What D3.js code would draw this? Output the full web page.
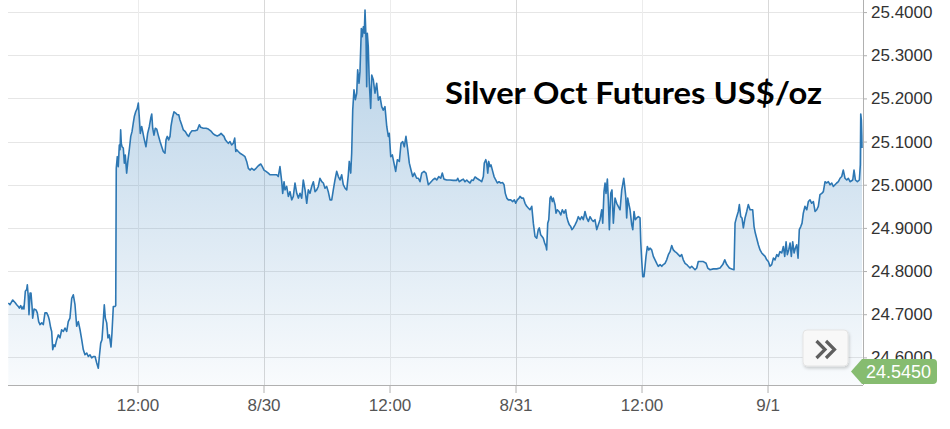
<!DOCTYPE html>
<html>
<head>
<meta charset="utf-8">
<script src="https://cdn.jsdelivr.net/npm/d3@7/dist/d3.min.js"></script>
<style>
html,body{margin:0;padding:0;background:#fff;}
svg{display:block;}
</style>
</head>
<body>
<svg id="chart" width="950" height="429"></svg>
<script>
// ---- data ----
const title = "Silver Oct Futures US$/oz";
const startTime = "2023-08-28T23:40:00Z";   // first point
const endHours = 81.33;                      // length of the x domain in hours
const hours = [0.03,0.19,0.45,0.67,0.83,0.98,1.08,1.21,1.33,1.46,1.52,1.65,1.78,1.84,1.93,2.00,2.10,2.19,2.29,2.35,2.48,2.67,2.79,2.92,3.05,3.21,3.36,3.52,3.69,3.84,3.93,4.07,4.16,4.26,4.38,4.48,4.64,4.79,4.95,5.11,5.27,5.43,5.59,5.74,5.90,6.07,6.22,6.38,6.54,6.70,6.86,7.02,7.17,7.33,7.50,7.65,7.81,7.97,8.12,8.29,8.45,8.60,8.70,8.83,8.95,9.08,9.17,9.27,9.40,9.52,9.65,9.81,9.90,10.03,10.19,10.26,
10.31,10.41,10.50,10.60,10.67,10.73,10.79,10.86,10.98,11.08,11.17,11.30,11.43,11.55,11.69,11.81,11.93,12.03,12.16,12.31,12.41,12.50,12.60,12.73,12.83,12.95,13.14,13.30,13.46,13.59,13.69,13.78,13.90,14.03,14.16,14.31,14.48,14.64,14.79,14.95,15.05,15.17,15.30,15.43,15.52,15.65,15.81,15.97,16.12,16.26,16.38,16.54,16.70,16.89,17.08,17.21,17.33,17.52,17.81,18.03,18.22,18.35,18.60,18.86,19.08,19.30,19.50,19.71,19.93,20.12,20.29,20.45,20.57,20.70,20.83,20.98,21.14,21.30,21.46,21.59,21.69,21.78,21.93,22.10,22.35,22.57,22.73,22.89,23.05,23.21,23.43,23.62,23.84,24.07,24.22,24.38,24.57,24.79,24.95,
25.27,25.59,25.74,25.90,26.07,26.16,26.29,26.38,26.54,26.70,26.86,27.02,27.17,27.33,27.50,27.65,27.81,27.97,28.12,28.29,28.45,28.60,28.76,28.92,29.08,29.24,29.40,29.55,29.71,29.88,30.03,30.19,30.35,30.50,30.67,30.83,30.98,31.14,31.30,31.46,31.62,31.78,31.93,32.10,32.26,32.41,32.50,32.64,32.73,32.83,32.95,33.08,33.21,33.30,33.43,33.52,33.65,33.74,33.84,33.93,34.00,34.10,34.16,34.22,34.31,34.41,34.54,34.64,34.79,34.95,35.11,35.27,35.43,35.59,35.74,35.90,36.07,36.22,36.31,36.45,36.60,36.76,36.92,37.08,37.27,37.43,37.59,37.74,37.90,38.07,38.22,38.38,38.54,38.70,38.92,39.08,39.24,
39.40,39.62,39.81,40.03,40.19,40.45,40.67,40.83,41.02,41.21,41.36,41.52,41.78,42.10,42.41,42.73,42.83,42.98,43.21,43.36,43.52,43.69,43.84,44.00,44.16,44.31,44.48,44.64,44.89,45.11,45.27,45.36,45.50,45.59,45.69,45.78,45.90,46.00,46.16,46.29,46.45,46.60,46.76,46.92,47.11,47.24,47.36,47.50,47.65,47.88,48.07,48.22,48.35,48.50,48.67,48.76,48.92,49.08,49.24,49.40,49.55,49.71,49.88,50.03,50.19,50.35,50.50,50.60,50.73,50.86,50.98,51.11,51.24,51.30,51.40,51.50,51.62,51.71,51.84,51.93,52.10,52.19,52.31,52.48,52.64,52.79,52.95,53.11,53.21,53.33,53.46,53.59,53.71,53.84,54.00,54.16,54.31,54.48,54.64,54.79,54.95,55.11,55.27,55.43,55.59,55.74,55.90,56.07,56.22,56.38,56.54,56.64,56.76,56.86,56.95,57.08,57.17,57.27,57.40,57.52,57.65,57.81,57.97,58.12,
58.29,58.45,58.54,58.64,58.73,58.83,58.92,59.02,59.11,59.24,59.40,59.50,59.62,59.74,59.88,60.03,60.19,60.26,60.35,60.45,60.57,60.67,60.76,60.89,61.02,61.14,61.30,61.46,61.62,61.78,61.93,62.10,62.26,62.41,62.57,62.73,62.89,63.05,63.21,63.36,63.52,63.69,63.84,64.00,64.16,64.31,64.48,64.64,64.79,64.95,65.11,65.27,65.43,65.59,65.74,65.90,66.22,66.48,66.64,66.86,67.17,67.50,67.81,68.07,68.26,68.45,68.70,68.92,69.14,69.24,69.40,69.55,69.65,69.78,69.90,70.03,70.19,70.35,70.50,70.67,70.92,71.05,71.17,71.30,71.46,71.62,71.78,71.93,72.10,72.26,72.41,72.57,72.73,72.89,73.05,73.21,73.36,73.52,73.69,73.84,73.97,74.10,74.22,74.35,74.48,74.60,74.73,74.86,74.98,75.11,75.24,75.36,75.50,75.62,75.74,75.90,76.07,76.22,76.38,76.54,76.70,76.86,77.02,77.17,77.33,77.50,77.65,77.81,77.97,78.12,78.29,78.45,78.60,78.76,78.92,79.08,79.24,79.40,79.55,79.71,79.88,80.03,80.19,80.45,80.57,80.70,80.89,81.08,81.17,81.21,81.27,81.31,81.33];
const prices = [24.726,24.722,24.733,24.727,24.722,24.718,24.714,24.720,24.712,24.718,24.712,24.753,24.757,24.768,24.741,24.699,24.749,24.749,24.718,24.691,24.712,24.710,24.703,24.683,24.676,24.680,24.676,24.703,24.703,24.695,24.687,24.668,24.660,24.618,24.629,24.625,24.641,24.652,24.645,24.664,24.660,24.668,24.660,24.683,24.691,24.737,24.745,24.722,24.672,24.683,24.664,24.641,24.618,24.606,24.610,24.602,24.606,24.599,24.602,24.602,24.587,24.575,24.602,24.633,24.641,24.687,24.722,24.691,24.680,24.645,24.652,24.624,24.656,24.718,24.718,24.720,
25.038,25.065,25.042,25.092,25.081,25.127,25.096,25.088,25.085,25.050,25.069,25.027,25.058,25.081,25.112,25.123,25.143,25.158,25.169,25.177,25.189,25.158,25.119,25.135,25.123,25.108,25.088,25.119,25.135,25.154,25.164,25.131,25.115,25.131,25.129,25.115,25.100,25.088,25.077,25.073,25.104,25.112,25.104,25.112,25.135,25.154,25.169,25.166,25.162,25.162,25.150,25.139,25.127,25.123,25.115,25.112,25.119,25.125,25.125,25.127,25.139,25.133,25.131,25.131,25.129,25.125,25.119,25.115,25.113,25.115,25.119,25.115,25.112,25.104,25.100,25.096,25.100,25.092,25.096,25.108,25.077,25.081,25.077,25.073,25.069,25.065,25.054,25.038,25.034,25.038,25.034,25.038,25.044,25.048,25.042,25.034,25.031,25.027,25.023,
25.023,25.023,25.019,25.042,25.007,24.980,25.007,24.988,24.996,24.973,24.984,24.965,24.973,25.004,24.980,24.969,24.980,24.969,25.011,24.988,24.957,24.988,24.980,24.996,25.007,24.984,24.988,24.996,25.015,25.007,25.004,24.992,24.996,24.984,24.965,24.965,24.988,25.011,25.031,25.019,25.011,25.023,25.000,24.992,24.988,25.023,25.054,25.027,25.073,25.173,25.220,25.197,25.212,25.266,25.235,25.262,25.362,25.343,25.366,25.351,25.405,25.335,25.227,25.351,25.320,25.235,25.177,25.254,25.243,25.212,25.235,25.196,25.204,25.181,25.173,25.181,25.135,25.112,25.119,25.065,25.069,25.050,25.031,25.058,25.054,25.096,25.100,25.088,25.112,25.081,25.050,25.034,25.019,25.027,25.015,25.015,25.007,
25.027,25.031,25.027,25.000,25.004,25.011,25.015,25.011,25.019,25.015,25.027,25.013,25.011,25.011,25.010,25.010,25.015,25.007,25.011,25.013,25.007,25.011,25.007,25.004,25.011,25.010,25.018,25.015,25.011,25.007,25.019,25.050,25.058,25.050,25.027,25.054,25.042,25.046,25.031,25.019,25.011,25.004,25.007,25.004,25.005,25.000,24.980,24.969,24.965,24.965,24.961,24.965,24.957,24.965,24.969,24.973,24.969,24.969,24.957,24.950,24.946,24.942,24.950,24.911,24.880,24.876,24.896,24.900,24.884,24.880,24.876,24.865,24.857,24.849,24.911,24.919,24.969,24.973,24.961,24.969,24.953,24.934,24.942,24.938,24.930,24.942,24.934,24.942,24.926,24.915,24.907,24.903,24.896,24.900,24.907,24.915,24.926,24.919,24.926,24.919,24.938,24.923,24.915,24.926,24.919,24.915,24.919,24.896,24.907,24.919,24.942,24.911,24.984,25.004,24.980,25.013,24.965,24.896,24.980,24.988,24.911,24.969,24.957,24.950,
24.942,24.988,25.000,25.015,24.996,24.973,24.923,24.969,24.957,24.942,24.907,24.896,24.938,24.919,24.923,24.926,24.923,24.868,24.826,24.787,24.787,24.811,24.834,24.857,24.849,24.853,24.849,24.834,24.826,24.818,24.811,24.815,24.811,24.815,24.818,24.826,24.838,24.845,24.859,24.849,24.845,24.842,24.838,24.834,24.838,24.826,24.818,24.815,24.811,24.807,24.811,24.807,24.803,24.807,24.822,24.822,24.822,24.818,24.807,24.803,24.805,24.805,24.807,24.815,24.826,24.815,24.807,24.805,24.803,24.911,24.926,24.938,24.954,24.926,24.923,24.900,24.923,24.938,24.954,24.942,24.942,24.903,24.888,24.876,24.861,24.849,24.842,24.838,24.834,24.826,24.822,24.811,24.815,24.830,24.826,24.838,24.834,24.845,24.842,24.857,24.834,24.868,24.838,24.849,24.865,24.834,24.868,24.842,24.853,24.861,24.830,24.896,24.903,24.911,24.934,24.950,24.942,24.961,24.965,24.957,24.961,24.938,24.942,24.950,24.977,24.980,24.984,25.007,25.004,25.007,25.000,25.004,24.996,25.000,25.004,25.007,25.015,25.019,25.034,25.015,25.011,25.015,25.007,25.011,25.034,25.011,25.007,25.011,25.046,25.164,25.150,25.116,25.085];
const yTicks = [24.6,24.7,24.8,24.9,25.0,25.1,25.2,25.3,25.4];
const xTickTimes = ["2023-08-29T12:00:00Z","2023-08-30T00:00:00Z","2023-08-30T12:00:00Z","2023-08-31T00:00:00Z","2023-08-31T12:00:00Z","2023-09-01T00:00:00Z"];
const lastLabelValue = 24.545;
const yDomain = [24.536, 25.428];

// ---- layout ----
const W = 950, H = 429;
const plotL = 8, plotR = 863, plotT = 0, plotB = 385;
const lineColor = "#2d77b3";

const svg = d3.select("#chart");
const t0 = new Date(startTime);
const toDate = h => new Date(t0.getTime() + h * 3600e3);
const data = hours.map((h, i) => ({ t: toDate(h), v: prices[i] }));

const x = d3.scaleUtc().domain([t0, toDate(endHours)]).range([plotL, plotR - 1]);
const y = d3.scaleLinear().domain(yDomain).range([plotB, plotT]);

// gradient
const defs = svg.append("defs");
const grad = defs.append("linearGradient").attr("id", "areaGrad")
  .attr("x1", 0).attr("y1", 0).attr("x2", 0).attr("y2", 1);
grad.append("stop").attr("offset", "0%").attr("stop-color", "#2d7ab9").attr("stop-opacity", 0.36);
grad.append("stop").attr("offset", "100%").attr("stop-color", "#2d7ab9").attr("stop-opacity", 0.03);
defs.append("clipPath").attr("id", "plotClip").append("rect")
  .attr("x", plotL).attr("y", plotT).attr("width", plotR - plotL).attr("height", plotB - plotT);
const shadow = defs.append("filter").attr("id", "btnShadow").attr("x", "-30%").attr("y", "-30%").attr("width", "160%").attr("height", "170%");
shadow.append("feDropShadow").attr("dx", 1).attr("dy", 2).attr("stdDeviation", 1.5).attr("flood-color", "#000").attr("flood-opacity", 0.18);

// horizontal grid
svg.append("g").selectAll("line").data(yTicks).join("line")
  .attr("x1", plotL).attr("x2", plotR)
  .attr("y1", d => Math.round(y(d)) + 0.5).attr("y2", d => Math.round(y(d)) + 0.5)
  .attr("stroke", "#e6e6e6").attr("stroke-width", 1);

// vertical grid
const xTicks = xTickTimes.map(s => new Date(s));
svg.append("g").selectAll("line").data(xTicks).join("line")
  .attr("x1", d => Math.round(x(d)) + 0.5).attr("x2", d => Math.round(x(d)) + 0.5)
  .attr("y1", plotT).attr("y2", plotB)
  .attr("stroke", d => d.getUTCHours() === 0 ? "#d9d9d9" : "#ececec").attr("stroke-width", 1);

// area + line
const g = svg.append("g").attr("clip-path", "url(#plotClip)");
g.append("path").datum(data)
  .attr("d", d3.area().x(d => x(d.t)).y0(plotB).y1(d => y(d.v)))
  .attr("fill", "url(#areaGrad)");
g.append("path").datum(data)
  .attr("d", d3.line().x(d => x(d.t)).y(d => y(d.v)))
  .attr("fill", "none").attr("stroke", lineColor).attr("stroke-width", 1.6)
  .attr("stroke-linejoin", "round");

// x axis
const fmt = d => d.getUTCHours() === 0 ? (d.getUTCMonth() + 1) + "/" + d.getUTCDate() : d3.utcFormat("%H:%M")(d);
const xAxis = d3.axisBottom(x).tickValues(xTicks).tickFormat(fmt).tickSize(8).tickSizeOuter(0).tickPadding(6);
const xg = svg.append("g").attr("transform", `translate(0,${plotB})`).call(xAxis);
xg.select(".domain").attr("stroke", "#b0b0b0").attr("d", `M${plotL},0.5H${plotR}`);
xg.selectAll(".tick line").attr("stroke", "#b0b0b0");
xg.selectAll("text").attr("fill", "#555").style("font-family", "'Liberation Sans', Arial, sans-serif").style("font-size", "17px");

// y axis (right)
const yAxis = d3.axisRight(y).tickValues(yTicks).tickFormat(d3.format(".4f")).tickSize(4).tickSizeOuter(0).tickPadding(4);
const yg = svg.append("g").attr("transform", `translate(${plotR},0)`).call(yAxis);
yg.select(".domain").attr("stroke", "#b0b0b0").attr("d", `M0.5,${plotT}V${plotB}`);
yg.selectAll(".tick line").attr("stroke", "#b0b0b0");
yg.selectAll("text").attr("fill", "#333").style("font-family", "'Liberation Sans', Arial, sans-serif").style("font-size", "17px");

// title
svg.append("text").attr("x", 445).attr("y", 104)
  .attr("textLength", 377).attr("lengthAdjust", "spacingAndGlyphs")
  .style("font-family", "Lato, 'Open Sans', sans-serif").style("font-weight", "bold").style("font-size", "30px")
  .attr("fill", "#000").text(title);

// navigator button
const btn = svg.append("g");
btn.append("rect").attr("x", 803).attr("y", 330).attr("width", 45).attr("height", 36).attr("rx", 4)
  .attr("fill", "#f8f8f8").attr("stroke", "#e4e4e4").attr("filter", "url(#btnShadow)");
btn.append("path").attr("d", "M816.5,341L825,349.5L816.5,358M826,341L834.5,349.5L826,358")
  .attr("fill", "none").attr("stroke", "#5f5f5f").attr("stroke-width", 3.2);

// last price label (overlaps the lowest y label, as in the source)
const ly = Math.min(y(lastLabelValue), plotB - 13.5);
const lbl = svg.append("g").attr("transform", `translate(${plotR - 12},${ly})`);
lbl.append("path").attr("d", "M0,0L11,-12.5H82a4,4 0 0 1 4,4V8.5a4,4 0 0 1 -4,4H11Z")
  .attr("fill", "#86bc70");
lbl.append("text").attr("x", 15).attr("y", 6.5).attr("fill", "#fff")
  .style("font-family", "'Liberation Sans', Arial, sans-serif").style("font-size", "18px")
  .text(d3.format(".4f")(lastLabelValue));
</script>
</body>
</html>
